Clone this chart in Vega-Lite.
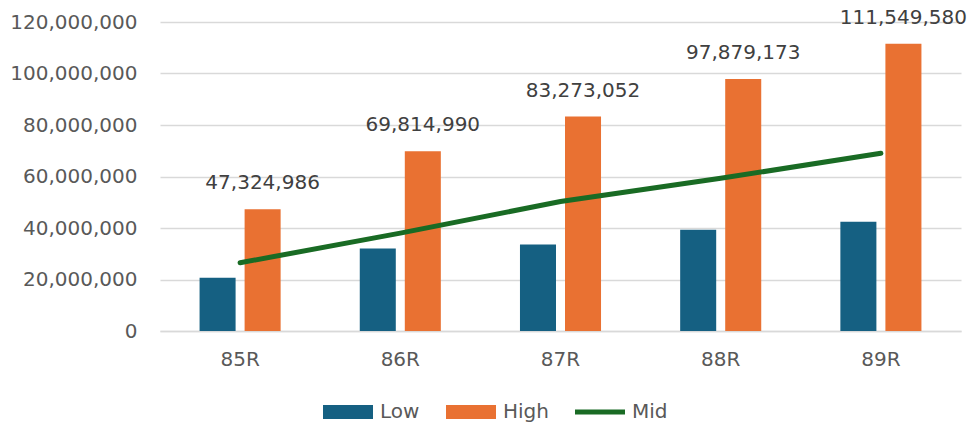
{
  "$schema": "https://vega.github.io/schema/vega-lite/v6.json",
  "width": 801,
  "height": 309,
  "autosize": "none",
  "padding": {"left": 160, "top": 22, "right": 8, "bottom": 94},
  "background": "white",
  "config": {"view": {"stroke": null}, "font": "DejaVu Sans"},
  "data": {
    "values": [
      {"cat": "85R", "series": "Low", "value": 20700000},
      {"cat": "85R", "series": "High", "value": 47324986},
      {"cat": "85R", "series": "Mid", "value": 26500000},
      {"cat": "86R", "series": "Low", "value": 32000000},
      {"cat": "86R", "series": "High", "value": 69814990},
      {"cat": "86R", "series": "Mid", "value": 38000000},
      {"cat": "87R", "series": "Low", "value": 33600000},
      {"cat": "87R", "series": "High", "value": 83273052},
      {"cat": "87R", "series": "Mid", "value": 50300000},
      {"cat": "88R", "series": "Low", "value": 39300000},
      {"cat": "88R", "series": "High", "value": 97879173},
      {"cat": "88R", "series": "Mid", "value": 59300000},
      {"cat": "89R", "series": "Low", "value": 42400000},
      {"cat": "89R", "series": "High", "value": 111549580},
      {"cat": "89R", "series": "Mid", "value": 69000000}
    ]
  },
  "encoding": {
    "x": {
      "field": "cat",
      "type": "nominal",
      "sort": null,
      "title": null,
      "scale": {"paddingInner": 0.494, "paddingOuter": 0.247},
      "axis": {
        "labelAngle": 0,
        "labelFontSize": 20,
        "labelColor": "#595959",
        "labelPadding": 18,
        "ticks": false,
        "domainColor": "#d9d9d9",
        "domainWidth": 1.5
      }
    },
    "y": {
      "field": "value",
      "type": "quantitative",
      "title": null,
      "scale": {"domain": [0, 120000000], "nice": false},
      "axis": {
        "values": [0, 20000000, 40000000, 60000000, 80000000, 100000000, 120000000],
        "format": ",.0f",
        "labelFontSize": 20,
        "labelColor": "#595959",
        "labelPadding": 23,
        "ticks": false,
        "domain": false,
        "gridColor": "#d9d9d9",
        "gridWidth": 1.5
      }
    }
  },
  "layer": [
    {
      "transform": [{"filter": "datum.series !== 'Mid'"}],
      "mark": {"type": "bar"},
      "encoding": {
        "xOffset": {"field": "series", "type": "nominal", "scale": {"domain": ["Low", "High"], "paddingInner": 0.2}},
        "color": {
          "field": "series",
          "type": "nominal",
          "scale": {"domain": ["Low", "High", "Mid"], "range": ["#156082", "#E97132", "#196B24"]},
          "legend": {
            "orient": "none",
            "legendX": 163,
            "legendY": 365,
            "direction": "horizontal",
            "title": null,
            "symbolSize": 2500,
            "labelFontSize": 20,
            "labelColor": "#595959",
            "labelOffset": 7,
            "columnPadding": 26,
            "symbolStrokeWidth": 0,
            "encode": {
              "symbols": {
                "update": {
                  "shape": {"signal": "datum.value === 'Mid' ? 'M-1,-0.1H1V0.1H-1Z' : 'M-1,-0.28H1V0.28H-1Z'"},
                  "fill": {"scale": "color", "field": "value"},
                  "fillOpacity": {"value": 1},
                  "opacity": {"value": 1},
                  "strokeWidth": {"value": 0}
                }
              }
            }
          }
        }
      }
    },
    {
      "transform": [{"filter": "datum.series === 'Mid'"}],
      "mark": {"type": "line", "strokeWidth": 5, "strokeCap": "round"},
      "encoding": {
        "color": {"field": "series", "type": "nominal"}
      }
    },
    {
      "transform": [{"filter": "datum.series === 'High'"}],
      "mark": {"type": "text", "baseline": "bottom", "dy": -16, "fontSize": 20, "color": "#404040"},
      "encoding": {
        "xOffset": {"field": "series", "type": "nominal", "scale": {"domain": ["Low", "High"], "paddingInner": 0.2}},
        "text": {"field": "value", "type": "quantitative", "format": ",.0f"}
      }
    }
  ]
}
